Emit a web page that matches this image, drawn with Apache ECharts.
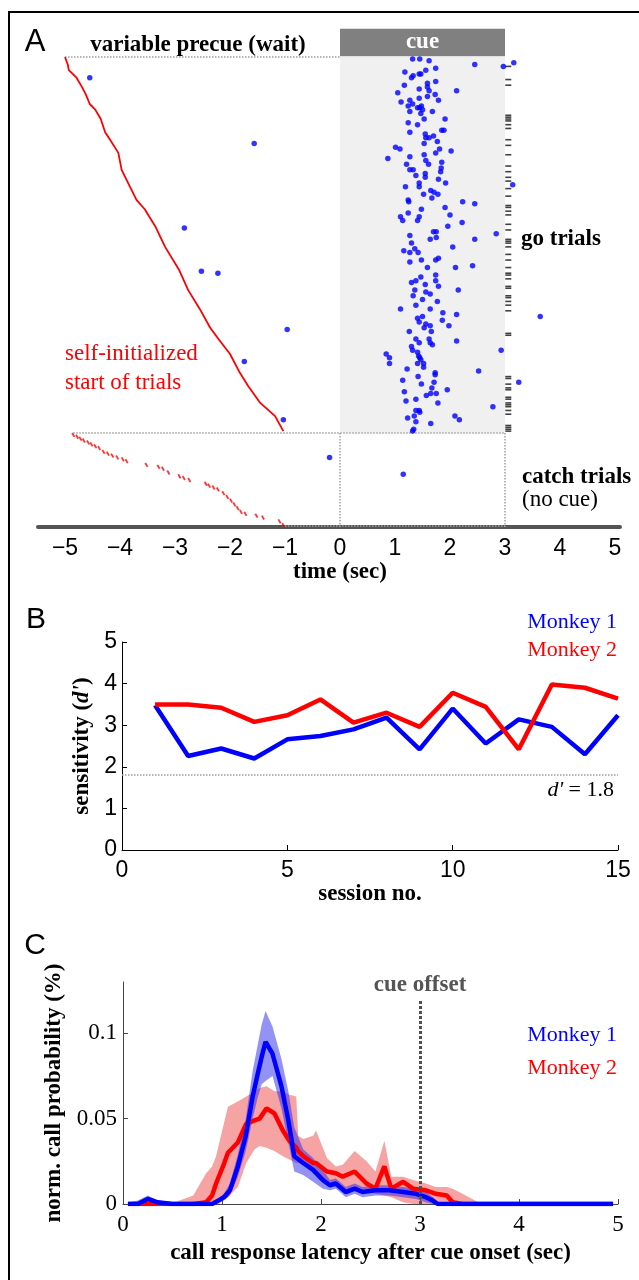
<!DOCTYPE html>
<html><head><meta charset="utf-8">
<script src="https://cdn.jsdelivr.net/npm/echarts@6/dist/echarts.min.js"></script>
<style>html,body{margin:0;padding:0;background:#fff}#c{width:639px;height:1280px}</style>
</head><body><div id="c"></div>
<script>
const SERIF = '"Liberation Serif","Times New Roman",serif';
const SANS = '"Liberation Sans",Arial,sans-serif';

// ---------- Panel A ----------
const goTrials = 200, catchTrials = 50, cueOn = 0, cueOff = 3, precueStart = -5;
const goStartTrial = [0,4,7,11,16,20,25,28,33,40,44,51,60,69,76,81,90,101,113,124,134,144,150,158,168,175,184,191,199];
const goStartTime  = [-5.0,-4.95,-4.93,-4.79,-4.69,-4.62,-4.55,-4.45,-4.35,-4.27,-4.18,-4.03,-3.97,-3.82,-3.70,-3.55,-3.36,-3.18,-2.93,-2.76,-2.55,-2.36,-2.21,-2.00,-1.82,-1.67,-1.45,-1.18,-1.03];
const catchStart = [[-4.85,201],[-4.78,202],[-4.72,203],[-4.66,204],[-4.58,205],[-4.52,206],[-4.45,207],[-4.38,208],[-4.30,210],[-4.22,211],[-4.14,212],[-4.05,213],[-3.95,214],[-3.88,215],[-3.52,217],[-3.30,218],[-3.22,219],[-3.12,221],[-2.92,223],[-2.84,224],[-2.74,225],[-2.44,227],[-2.38,228],[-2.30,229],[-2.22,230],[-2.12,232],[-2.05,234],[-1.98,236],[-1.92,238],[-1.86,240],[-1.80,242],[-1.72,243],[-1.52,244],[-1.40,245],[-1.10,247],[-1.03,249]];
const precueCalls = [[-4.55,11],[-1.56,46],[-2.83,91],[-2.52,114],[-2.22,115],[-0.96,145],[-1.74,162],[-1.03,193]];
const cueCalls = [[1.32,1],[1.45,1],[1.62,2],[2.45,4],[2.97,5],[3.16,3],[1.18,8],[1.56,7],[1.74,6],[1.30,11],[1.33,10],[1.44,9],[1.47,9],[1.59,14],[1.74,13],[1.17,15],[1.44,17],[1.59,16],[2.12,18],[1.62,18],[1.05,19],[1.59,21],[1.73,20],[1.44,22],[1.79,23],[1.11,24],[1.27,23],[1.32,25],[1.48,26],[1.24,26],[1.41,27],[1.45,27],[1.50,28],[1.27,29],[1.68,29],[1.47,30],[1.53,33],[1.91,33],[1.24,35],[1.41,36],[1.89,39],[1.85,39],[1.27,40],[1.55,41],[1.70,42],[1.56,43],[1.62,43],[1.77,45],[1.01,48],[1.09,49],[1.53,46],[1.81,49],[1.74,51],[2.02,50],[0.87,54],[1.27,53],[1.53,52],[1.56,55],[1.61,57],[1.85,56],[1.21,57],[1.33,60],[1.27,60],[1.84,59],[1.83,61],[1.38,63],[1.55,62],[1.55,64],[1.79,65],[1.92,67],[1.19,69],[1.44,67],[1.44,69],[3.14,68],[1.52,73],[1.65,71],[1.71,72],[1.78,73],[1.67,75],[1.24,76],[1.25,77],[2.23,77],[2.45,78],[1.48,81],[1.24,83],[1.91,80],[2.00,84],[1.10,85],[1.14,87],[1.41,87],[1.44,85],[2.22,88],[1.96,90],[1.70,93],[1.75,93],[1.27,95],[1.64,97],[1.75,96],[2.45,97],[2.84,94],[1.30,99],[2.05,101],[1.16,103],[1.36,102],[1.42,104],[1.27,104],[1.48,108],[1.27,109],[1.74,108],[1.79,107],[1.59,112],[2.10,112],[2.41,111],
[1.74,116],[1.30,120],[1.38,119],[1.47,117],[1.55,121],[1.74,119],[1.79,122],[1.36,124],[1.56,125],[1.64,126],[2.15,124],[1.33,127],[1.50,129],[1.77,130],[1.38,132],[1.10,134],[1.64,134],[1.87,136],[2.12,137],[1.86,140],[1.50,138],[1.41,139],[1.44,141],[1.56,142],[1.64,143],[1.53,144],[1.98,143],[1.26,146],[1.66,146],[1.38,150],[1.44,152],[1.62,150],[1.64,152],[1.68,153],[2.12,151],[1.30,154],[1.32,156],[1.41,157],[1.43,159],[1.45,160],[1.47,161],[1.41,163],[1.52,163],[1.52,165],[0.84,158],[0.90,160],[0.90,163],[2.93,156],[3.64,138],[1.22,166],[1.73,168],[1.73,169],[2.52,167],[1.14,172],[1.42,170],[1.71,173],[1.48,174],[1.95,177],[1.67,176],[1.75,179],[1.65,179],[1.57,180],[3.25,173],[1.17,178],[1.20,183],[1.38,182],[1.78,184],[2.78,186],[1.38,188],[1.44,188],[1.45,189],[1.35,191],[2.09,191],[2.17,193],[1.23,192],[1.38,194],[1.65,195],[1.34,198],[1.32,199]];
const catchCalls = [[-0.19,213],[1.15,222]];
const lateMarkTrials = [5,12,15,31,32,33,34,36,38,44,47,52,58,61,64,66,70,74,79,80,82,84,89,92,97,98,99,101,105,108,112,115,116,118,122,123,127,128,130,132,135,147,148,170,171,174,176,177,181,182,184,185,186,188,190,196,197,198,199];
const lateMarkTime = 3.06;

// ---------- Panel B ----------
const sessions = [1,2,3,4,5,6,7,8,9,10,11,12,13,14,15];
const dPrimeM1 = [3.48,2.26,2.44,2.20,2.66,2.74,2.90,3.18,2.42,3.40,2.56,3.14,2.96,2.30,3.24];
const dPrimeM2 = [3.50,3.50,3.42,3.08,3.24,3.62,3.06,3.30,2.96,3.78,3.44,2.42,3.98,3.90,3.64];
const dCrit = 1.8;

// ---------- Panel C ----------
const m1T    = [0.05,0.15,0.25,0.35,0.5,0.7,0.9,0.96,1.02,1.08,1.16,1.24,1.31,1.36,1.4,1.44,1.51,1.6,1.67,1.73,1.82,1.92,2.02,2.09,2.15,2.19,2.25,2.34,2.42,2.55,2.69,2.83,2.96,3.06,3.13,3.18,3.4,4.0,4.5,4.95];
const m1Mean = [0,0,0.003,0.001,0,0,0,0.002,0.004,0.008,0.022,0.040,0.063,0.076,0.086,0.095,0.088,0.069,0.049,0.028,0.024,0.020,0.014,0.011,0.012,0.010,0.007,0.009,0.007,0.008,0.008,0.007,0.006,0.004,0.002,0,0,0,0,0];
const m1Hi   = [0.001,0.002,0.005,0.002,0.001,0,0,0.003,0.006,0.012,0.029,0.050,0.078,0.093,0.105,0.113,0.104,0.085,0.066,0.045,0.032,0.027,0.020,0.014,0.015,0.013,0.010,0.012,0.010,0.011,0.011,0.010,0.009,0.007,0.004,0.001,0,0,0,0];
const m1Lo   = [0,0,0.001,0,0,0,0,0,0.002,0.005,0.016,0.031,0.050,0.062,0.070,0.072,0.075,0.056,0.036,0.019,0.017,0.013,0.009,0.008,0.009,0.007,0.004,0.006,0.004,0.005,0.005,0.004,0.003,0.001,0,0,0,0,0,0];
const m2T    = [0.05,0.5,0.57,0.71,0.84,0.9,0.94,1.01,1.06,1.16,1.245,1.33,1.38,1.45,1.53,1.615,1.68,1.75,1.77,1.82,1.92,1.95,2.06,2.15,2.22,2.34,2.46,2.55,2.64,2.71,2.83,2.93,3.06,3.16,3.27,3.33,3.43,3.62,4.0,4.95];
const m2Mean = [0,0,0,0,0.001,0.005,0.012,0.022,0.030,0.036,0.047,0.049,0.050,0.056,0.053,0.043,0.037,0.033,0.031,0.028,0.024,0.024,0.019,0.018,0.016,0.019,0.012,0.009,0.022,0.009,0.013,0.009,0.008,0.006,0.005,0.001,0,0,0,0];
const m2Hi   = [0,0,0.002,0.005,0.018,0.022,0.028,0.045,0.057,0.060,0.063,0.066,0.068,0.069,0.066,0.066,0.064,0.063,0.040,0.038,0.040,0.043,0.027,0.022,0.023,0.031,0.025,0.019,0.037,0.016,0.016,0.014,0.012,0.010,0.010,0.009,0.006,0,0,0];
const m2Lo   = [0,0,0,0,0,0,0,0.002,0.004,0.010,0.024,0.032,0.034,0.033,0.031,0.028,0.026,0.024,0.024,0.023,0.020,0.019,0.012,0.010,0.009,0.008,0.007,0.006,0.005,0.004,0.001,0,0,0,0,0,0,0,0,0];
const cueOffsetLineTop = 0.1196;
const cProbTicks = [0, 0.05, 0.1];

// ---------- helpers ----------
const pairs = (xs, ys) => xs.map((x, i) => [x, ys[i]]);
function bandRender(T, LO, HI, color) {
  return function (params, api) {
    if (params.dataIndex !== 0) return null;
    const pts = [];
    for (let i = 0; i < T.length; i++) pts.push(api.coord([T[i], HI[i]]));
    for (let i = T.length - 1; i >= 0; i--) pts.push(api.coord([T[i], LO[i]]));
    return { type: 'polygon', shape: { points: pts }, style: { fill: color } };
  };
}
function txt(text, x, y, font, fill, align, vAlign, lineHeight) {
  const style = { text, x, y, font, fill, textAlign: align, align: align, textVerticalAlign: vAlign, verticalAlign: vAlign };
  if (lineHeight) style.lineHeight = lineHeight;
  return { type: 'text', silent: true, z: 50, style };
}
const axisBase = { splitLine: { show: false } };
const dotted = { color: '#a0a0a0', type: 'dotted', width: 1.5 };

const chart = echarts.init(document.getElementById('c'), null, { renderer: 'canvas' });
const option = {
  animation: false,
  backgroundColor: '#fff',
  grid: [
    { left: 65, right: 24, top: 28.8, bottom: 753 },
    { left: 38, right: 19, top: 500, bottom: 753 },
    { left: 122, right: 21, top: 642, bottom: 430 },
    { left: 123, right: 21, top: 982, bottom: 76 }
  ],
  xAxis: [
    Object.assign({ gridIndex: 0, type: 'value', min: precueStart, max: 5, interval: 1,
      axisLine: { show: false }, axisTick: { show: false },
      axisLabel: { margin: 10, fontFamily: SANS, fontSize: 23, color: '#000', formatter: v => String(v).replace('-', '\u2212') },
      name: 'time (sec)', nameLocation: 'middle', nameGap: 32,
      nameTextStyle: { fontFamily: SERIF, fontWeight: 'bold', fontSize: 23, color: '#000' } }, axisBase),
    Object.assign({ gridIndex: 1, type: 'value', min: 0, max: 1,
      axisLine: { show: true, lineStyle: { color: '#555', width: 4 } }, axisTick: { show: false }, axisLabel: { show: false } }, axisBase),
    Object.assign({ gridIndex: 2, type: 'value', min: 0, max: 15, interval: 5,
      axisLine: { show: true, lineStyle: { color: '#000', width: 1 } },
      axisTick: { show: true, inside: true, length: 5, lineStyle: { color: '#000' } },
      axisLabel: { margin: 9, fontFamily: SANS, fontSize: 23, color: '#000' },
      name: 'session no.', nameLocation: 'middle', nameGap: 22,
      nameTextStyle: { fontFamily: SERIF, fontWeight: 'bold', fontSize: 23, color: '#000' } }, axisBase),
    Object.assign({ gridIndex: 3, type: 'value', min: 0, max: 5, interval: 1,
      axisLine: { show: true, lineStyle: { color: '#444', width: 1 } },
      axisTick: { show: true, inside: true, length: 5, lineStyle: { color: '#444' } },
      axisLabel: { margin: 9, fontFamily: SERIF, fontSize: 23, color: '#000' },
      name: 'call response latency after cue onset (sec)', nameLocation: 'middle', nameGap: 38,
      nameTextStyle: { fontFamily: SERIF, fontWeight: 'bold', fontSize: 23, color: '#000' } }, axisBase)
  ],
  yAxis: [
    { gridIndex: 0, type: 'value', min: -15, max: goTrials + catchTrials, inverse: true, show: false },
    { gridIndex: 1, type: 'value', min: 0, max: 1, show: false },
    Object.assign({ gridIndex: 2, type: 'value', min: 0, max: 5, interval: 1,
      axisLine: { show: true, lineStyle: { color: '#000', width: 1 } },
      axisTick: { show: true, inside: true, length: 5, lineStyle: { color: '#000' } },
      axisLabel: { margin: 5, fontFamily: SANS, fontSize: 23, color: '#000' },
      name: "sensitivity ({i|d'})", nameLocation: 'middle', nameGap: 27, nameRotate: 90,
      nameTextStyle: { fontFamily: SERIF, fontWeight: 'bold', fontSize: 23, color: '#000',
        rich: { i: { fontFamily: SERIF, fontWeight: 'bold', fontStyle: 'italic', fontSize: 23, color: '#000' } } } }, axisBase),
    Object.assign({ gridIndex: 3, type: 'value', min: 0, max: 0.13,
      axisLine: { show: true, lineStyle: { color: '#444', width: 1 } },
      axisTick: { show: true, inside: true, length: 5, customValues: cProbTicks, lineStyle: { color: '#444' } },
      axisLabel: { margin: 6, customValues: cProbTicks, fontFamily: SERIF, fontSize: 23, color: '#000', formatter: v => String(v) },
      name: 'norm. call probability (%)', nameLocation: 'middle', nameGap: 56, nameRotate: 90,
      nameTextStyle: { fontFamily: SERIF, fontWeight: 'bold', fontSize: 23, color: '#000' } }, axisBase)
  ],
  series: [
    { type: 'line', name: 'go start', xAxisIndex: 0, yAxisIndex: 0, data: pairs(goStartTime, goStartTrial),
      showSymbol: false, silent: true, z: 3, lineStyle: { color: '#ff0000', width: 1.8 },
      markArea: { silent: true, z: 1, data: [
        [{ name: 'cue', coord: [cueOn, -15], itemStyle: { color: '#808080', opacity: 1 },
           label: { show: true, position: 'inside', color: '#fff', fontFamily: SERIF, fontWeight: 'bold', fontSize: 23 } },
         { coord: [cueOff, -0.4] }],
        [{ name: '', coord: [cueOn, 0], itemStyle: { color: '#f0f0f0', opacity: 1 }, label: { show: false } },
         { coord: [cueOff, goTrials] }]
      ] },
      markLine: { silent: true, symbol: ['none', 'none'], label: { show: false }, lineStyle: dotted, z: 2, data: [
        [{ coord: [precueStart, 0] }, { coord: [cueOn, 0] }],
        [{ coord: [-4.85, goTrials] }, { coord: [cueOff, goTrials] }],
        [{ coord: [cueOn, goTrials] }, { coord: [cueOn, goTrials + catchTrials] }],
        [{ coord: [cueOff, goTrials] }, { coord: [cueOff, goTrials + catchTrials] }],
        [{ coord: [-1, goTrials + catchTrials - 0.6] }, { coord: [cueOff, goTrials + catchTrials - 0.6] }]
      ] } },
    { type: 'scatter', name: 'catch start', xAxisIndex: 0, yAxisIndex: 0, data: catchStart, silent: true, z: 3,
      symbol: 'rect', symbolSize: [1.8, 4.5], symbolRotate: 30, itemStyle: { color: '#ff0000' } },
    { type: 'scatter', name: 'calls', xAxisIndex: 0, yAxisIndex: 0, data: precueCalls.concat(cueCalls, catchCalls), silent: true, z: 5,
      symbolSize: 5.5, itemStyle: { color: '#0000ff' } },
    { type: 'scatter', name: 'late', xAxisIndex: 0, yAxisIndex: 0, data: lateMarkTrials.map(tr => [lateMarkTime, tr]), silent: true, z: 4,
      symbol: 'rect', symbolSize: [6, 1.6], itemStyle: { color: '#111' } },

    { type: 'line', name: 'Monkey 1', xAxisIndex: 2, yAxisIndex: 2, data: pairs(sessions, dPrimeM1), showSymbol: false, silent: true, z: 3,
      lineStyle: { color: '#0000ff', width: 4.5 },
      markLine: { silent: true, symbol: ['none', 'none'], lineStyle: dotted, data: [{ yAxis: dCrit }],
        label: { show: true, position: 'insideEndBottom', distance: 4, formatter: "{i|d'} = 1.8", fontFamily: SERIF, fontSize: 22, color: '#000',
          rich: { i: { fontFamily: SERIF, fontStyle: 'italic', fontSize: 22, color: '#000' } } } } },
    { type: 'line', name: 'Monkey 2', xAxisIndex: 2, yAxisIndex: 2, data: pairs(sessions, dPrimeM2), showSymbol: false, silent: true, z: 4,
      lineStyle: { color: '#ff0000', width: 4.5 } },

    { type: 'custom', name: 'Monkey 2 band', xAxisIndex: 3, yAxisIndex: 3, silent: true, z: 1,
      renderItem: bandRender(m2T, m2Lo, m2Hi, 'rgba(236,72,72,0.5)'),
      data: m2T.map((t, i) => [t, m2Lo[i], m2Hi[i]]), encode: { x: 0, y: [1, 2] } },
    { type: 'custom', name: 'Monkey 1 band', xAxisIndex: 3, yAxisIndex: 3, silent: true, z: 2,
      renderItem: bandRender(m1T, m1Lo, m1Hi, 'rgba(40,40,236,0.5)'),
      data: m1T.map((t, i) => [t, m1Lo[i], m1Hi[i]]), encode: { x: 0, y: [1, 2] } },
    { type: 'line', name: 'Monkey 2', xAxisIndex: 3, yAxisIndex: 3, data: pairs(m2T, m2Mean), showSymbol: false, silent: true, z: 3,
      lineStyle: { color: '#ff0000', width: 4.5 } },
    { type: 'line', name: 'Monkey 1', xAxisIndex: 3, yAxisIndex: 3, data: pairs(m1T, m1Mean), showSymbol: false, silent: true, z: 4,
      lineStyle: { color: '#0000ff', width: 4.5 },
      markLine: { silent: true, symbol: ['none', 'none'], z: 6,
        lineStyle: { color: '#505050', type: [3, 2], width: 3 },
        label: { show: true, position: 'end', formatter: 'cue offset', fontFamily: SERIF, fontWeight: 'bold', fontSize: 23, color: '#555', distance: 3 },
        data: [[{ coord: [cueOff, 0] }, { coord: [cueOff, cueOffsetLineTop] }]] } }
  ],
  graphic: [
    { type: 'rect', silent: true, z: 60, shape: { x: 9, y: 12, width: 720, height: 1400 }, style: { fill: 'transparent', stroke: '#000', lineWidth: 2 } },
    txt('A', 35, 42, '31px ' + SANS, '#000', 'center', 'middle'),
    txt('B', 36, 620, '30px ' + SANS, '#000', 'center', 'middle'),
    txt('C', 35, 946, '30px ' + SANS, '#000', 'center', 'middle'),
    txt('variable precue (wait)', 198, 45, 'bold 23px ' + SERIF, '#000', 'center', 'middle'),
    txt('go trials', 521, 239, 'bold 23px ' + SERIF, '#000', 'left', 'middle'),
    txt('self-initialized\nstart of trials', 65, 368, '23px ' + SERIF, '#ff0000', 'left', 'middle', 29),
    txt('catch trials', 522, 477, 'bold 23px ' + SERIF, '#000', 'left', 'middle'),
    txt('(no cue)', 522, 500, '23px ' + SERIF, '#000', 'left', 'middle'),
    txt('Monkey 1', 617, 622, '22px ' + SERIF, '#0000ff', 'right', 'middle'),
    txt('Monkey 2', 617, 650, '22px ' + SERIF, '#ff0000', 'right', 'middle'),
    txt('Monkey 1', 617, 1035, '22px ' + SERIF, '#0000ff', 'right', 'middle'),
    txt('Monkey 2', 617, 1068, '22px ' + SERIF, '#ff0000', 'right', 'middle')
  ]
};
chart.setOption(option);
</script></body></html>
